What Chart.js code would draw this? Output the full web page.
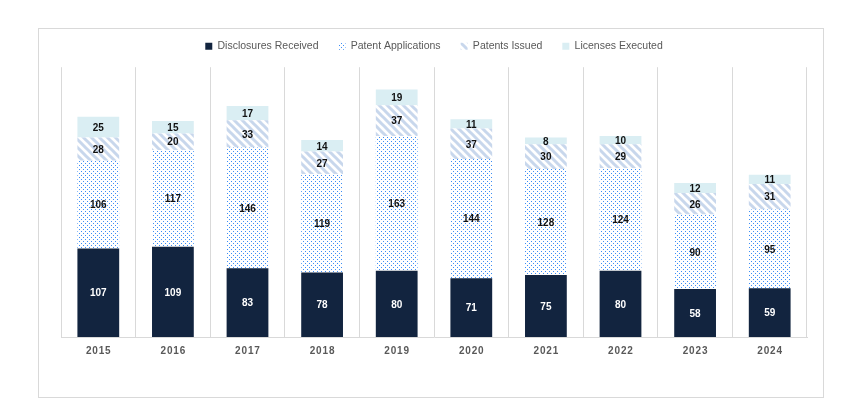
<!DOCTYPE html>
<html>
<head>
<meta charset="utf-8">
<script src="https://cdn.jsdelivr.net/npm/chart.js@4.4.1/dist/chart.umd.min.js"></script>
<style>
	body { margin: 0; background: #fff; }
	#frame {
		position: absolute; left: 38px; top: 28px;
		width: 784px; height: 368px;
		border: 1px solid #D9D9D9;
	}
	#frame canvas { position: absolute; left: 0; top: -8px; display: block; }
</style>
</head>
<body>
<div id="frame"><canvas id="container" width="784" height="376"></canvas></div>
<script>
// data
const years = ['2015', '2016', '2017', '2018', '2019', '2020', '2021', '2022', '2023', '2024'];
const disclosures = [107, 109, 83, 78, 80, 71, 75, 80, 58, 59];
const applications = [106, 117, 146, 119, 163, 144, 128, 124, 90, 95];
const issued = [28, 20, 33, 27, 37, 37, 30, 29, 26, 31];
const licenses = [25, 15, 17, 14, 19, 11, 8, 10, 12, 11];

const FONT = "'Liberation Sans', Arial, sans-serif";

// fill patterns
function dotPattern() {
	const c = document.createElement('canvas');
	c.width = 4; c.height = 4;
	const g = c.getContext('2d');
	g.fillStyle = '#ffffff';
	g.fillRect(0, 0, 4, 4);
	g.fillStyle = '#3C8DF5';
	g.fillRect(0, 0, 1, 1);
	g.fillRect(2, 2, 1, 1);
	return g.createPattern(c, 'repeat');
}

function stripePattern() {
	const c = document.createElement('canvas');
	c.width = 8; c.height = 8;
	const g = c.getContext('2d');
	g.fillStyle = '#ffffff';
	g.fillRect(0, 0, 8, 8);
	g.strokeStyle = '#C8D7EC';
	g.lineWidth = 3;
	g.beginPath();
	g.moveTo(-2, -2); g.lineTo(10, 10);
	g.moveTo(-2, 6); g.lineTo(2, 10);
	g.moveTo(6, -2); g.lineTo(10, 2);
	g.stroke();
	return g.createPattern(c, 'repeat');
}

// value labels in the middle of each segment
const segLabels = {
	id: 'segLabels',
	afterDatasetsDraw(chart) {
		const ctx = chart.ctx;
		ctx.save();
		ctx.font = 'bold 10px ' + FONT;
		ctx.textAlign = 'center';
		ctx.textBaseline = 'middle';
		chart.data.datasets.forEach(function(ds, i) {
			const meta = chart.getDatasetMeta(i);
			ctx.fillStyle = i === 0 ? '#ffffff' : '#111111';
			meta.data.forEach(function(bar, j) {
				const p = bar.getProps(['x', 'y', 'base'], true);
				ctx.fillText(ds.data[j], p.x, (p.y + p.base) / 2 + 1);
			});
		});
		ctx.restore();
	}
};

const data = {
	labels: years,
	datasets: [
		{ label: 'Disclosures Received', data: disclosures, backgroundColor: '#12243F' },
		{ label: 'Patent Applications', data: applications, backgroundColor: dotPattern() },
		{ label: 'Patents Issued', data: issued, backgroundColor: stripePattern() },
		{ label: 'Licenses Executed', data: licenses, backgroundColor: '#DAEEF3' }
	]
};

const config = {
	type: 'bar',
	data: data,
	options: {
		responsive: false,
		animation: false,
		categoryPercentage: 1,
		barPercentage: 0.56,
		layout: { padding: { left: 22, right: 16, top: 0, bottom: 32 } },
		scales: {
			x: {
				stacked: true,
				grid: { color: '#D9D9D9', lineWidth: 1, drawTicks: false, offset: true },
				border: { color: '#D9D9D9' },
				ticks: {
					color: '#595959',
					padding: 8,
					font: { family: FONT, size: 10, weight: 'bold' },
					callback: function(v) { return this.getLabelForValue(v).split('').join('\u200A'); }
				}
			},
			y: { stacked: true, display: false, min: 0, max: 326 }
		},
		plugins: {
			tooltip: { enabled: false },
			legend: {
				position: 'top',
				labels: {
					boxWidth: 7,
					boxHeight: 7,
					padding: 20,
					color: '#595959',
					font: { family: FONT, size: 10.5 }
				}
			},
			// empty spacer between legend and plot
			subtitle: {
				display: true,
				text: '',
				position: 'top',
				weight: 500,
				font: { size: 1 },
				padding: { top: 0, bottom: 4.5 }
			}
		}
	},
	plugins: [segLabels]
};

let ctx = document.getElementById('container').getContext('2d');
let chart = new Chart(ctx, config);
</script>
</body>
</html>
